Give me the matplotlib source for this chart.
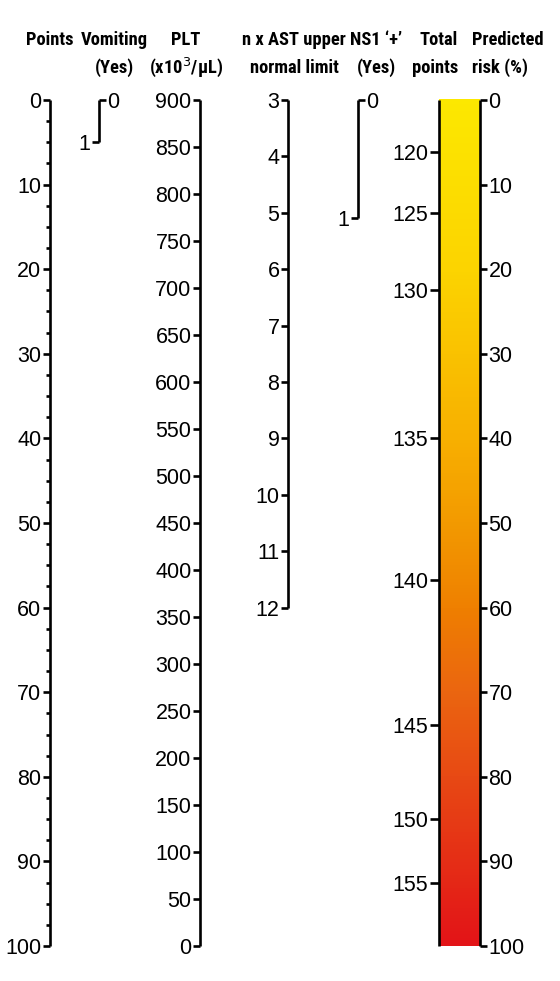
import numpy as np
import matplotlib
matplotlib.use("Agg")
import matplotlib.pyplot as plt
from matplotlib import font_manager as fm
from matplotlib.colors import LinearSegmentedColormap

plt.rcParams['font.family'] = ['Liberation Sans', 'DejaVu Sans']

# data
points_major = [0, 10, 20, 30, 40, 50, 60, 70, 80, 90, 100]
points_minor = np.arange(0, 100.1, 2.5)
vomiting_points = 5            # Yes -> 5 points
plt_values = list(range(900, -1, -50))   # x10^3/uL, 900 -> 0 pts, 0 -> 100 pts
ast_values = [3, 4, 5, 6, 7, 8, 9, 10, 11, 12]
ast_max_points = 60            # 12 x AST ULN -> ~60 points
ns1_points = 14                # NS1 positive -> 14 points
risk_values = [0, 10, 20, 30, 40, 50, 60, 70, 80, 90, 100]
total_points = [120, 125, 130, 135, 140, 145, 150, 155]
total_at_risk = [6.1, 13.3, 22.5, 40.0, 56.7, 73.9, 85.0, 92.6]   # risk (%) position of each label

headers = ["Points", "Vomiting\n(Yes)", "PLT\n(x10$^3$/\u03bcL)", "n x AST upper\nnormal limit",
           "NS1 \u2018+\u2019\n(Yes)", "Total\npoints", "Predicted\nrisk (%)"]

# layout (pixels)
W, H = 560, 981
TOP, SCALE = 100, 8.46     # pixel of 0 points, pixels per point
x_pts, x_vom, x_plt, x_ast, x_ns1, x_tot, x_risk = 50, 99, 200, 288, 358, 439, 480
header_x = [50, 114, 186, 294, 376, 458, 472]
header_ha = ["center", "center", "center", "center", "center", "right", "left"]
LW = 1.9
TMAJ, TMIN = 7, 4
FS = 15.5

# pick a condensed face for the headers if one is installed
avail = {f.name for f in fm.fontManager.ttflist}
head_font = dict(family=["Roboto", "Liberation Sans", "DejaVu Sans"], fontsize=11.8)
for name in ["Liberation Sans Narrow", "Roboto Condensed", "Open Sans Condensed",
             "Noto Sans Condensed", "DejaVu Sans Condensed"]:
    if name in avail:
        head_font = dict(family=[name, "DejaVu Sans"], fontsize=13.3)
        break
else:
    for f in fm.fontManager.ttflist:
        if f.name in ("Noto Sans", "Open Sans") and f.stretch in ("condensed", "semi-condensed") \
                and f.weight in ("bold", 700):
            head_font = dict(family=[f.name, "DejaVu Sans"], fontsize=13.3, fontstretch=f.stretch)
            break

fig = plt.figure(figsize=(W / 100, H / 100), dpi=100)
ax = fig.add_axes([0, 0, 1, 1])
ax.set_xlim(0, W)
ax.set_ylim((H - TOP) / SCALE, -TOP / SCALE)
ax.axis("off")


def ypix(p):
    return (p - TOP) / SCALE


def vaxis(x, y0, y1):
    ax.plot([x, x], [y0, y1], color="black", lw=LW, solid_capstyle="butt")


def tick(x, y, label, side="left", length=TMAJ):
    d = -length if side == "left" else length
    ax.plot([x, x + d], [y, y], color="black", lw=LW, solid_capstyle="butt")
    if label is not None:
        ax.text(x + d + (-1.5 if side == "left" else 1.5), y, label,
                ha="right" if side == "left" else "left", va="center_baseline",
                fontsize=FS)


# Points
vaxis(x_pts, 0, 100)
for v in points_minor:
    if v % 10:
        tick(x_pts, v, None, length=TMIN)
for v in points_major:
    tick(x_pts, v, str(v))

# Vomiting
vaxis(x_vom, 0, vomiting_points)
tick(x_vom, 0, "0", side="right")
tick(x_vom, vomiting_points, "1", side="left")

# PLT
vaxis(x_plt, 0, 100)
for v in plt_values:
    tick(x_plt, (900 - v) / 900 * 100, str(v))

# AST
ast_pos = [(v - ast_values[0]) / (ast_values[-1] - ast_values[0]) * ast_max_points for v in ast_values]
vaxis(x_ast, 0, ast_pos[-1])
for v, p in zip(ast_values, ast_pos):
    tick(x_ast, p, str(v))

# NS1
vaxis(x_ns1, 0, ns1_points)
tick(x_ns1, 0, "0", side="right")
tick(x_ns1, ns1_points, "1", side="left")

# colour bar for total points / risk
cmap = LinearSegmentedColormap.from_list("risk", [
    (0.0, "#fce800"), (0.2, "#fcd400"), (0.4, "#f8b000"), (0.5, "#f39a00"),
    (0.6, "#ef8000"), (0.7, "#eb6610"), (0.8, "#e84a14"), (1.0, "#e31418")])
grad = np.linspace(0, 1, 256).reshape(-1, 1)
ax.imshow(grad, cmap=cmap, aspect="auto", extent=[x_tot, x_risk, 100, 0],
          interpolation="bilinear", zorder=0)

vaxis(x_tot, 0, 100)
for v, r in zip(total_points, total_at_risk):
    tick(x_tot, r, str(v), length=9)

vaxis(x_risk, 0, 100)
for v in risk_values:
    tick(x_risk, v, str(v), side="right")

# headers, two lines each, baselines ~28 px apart
for x, ha, h in zip(header_x, header_ha, headers):
    lines = h.split("\n")
    ax.text(x, ypix(45), lines[0], ha=ha, va="baseline",
            fontweight="bold", **head_font)
    if len(lines) > 1:
        ax.text(x, ypix(73), lines[1], ha=ha, va="baseline",
                fontweight="bold", **head_font)

fig.savefig("out.png", dpi=100, facecolor="white")
